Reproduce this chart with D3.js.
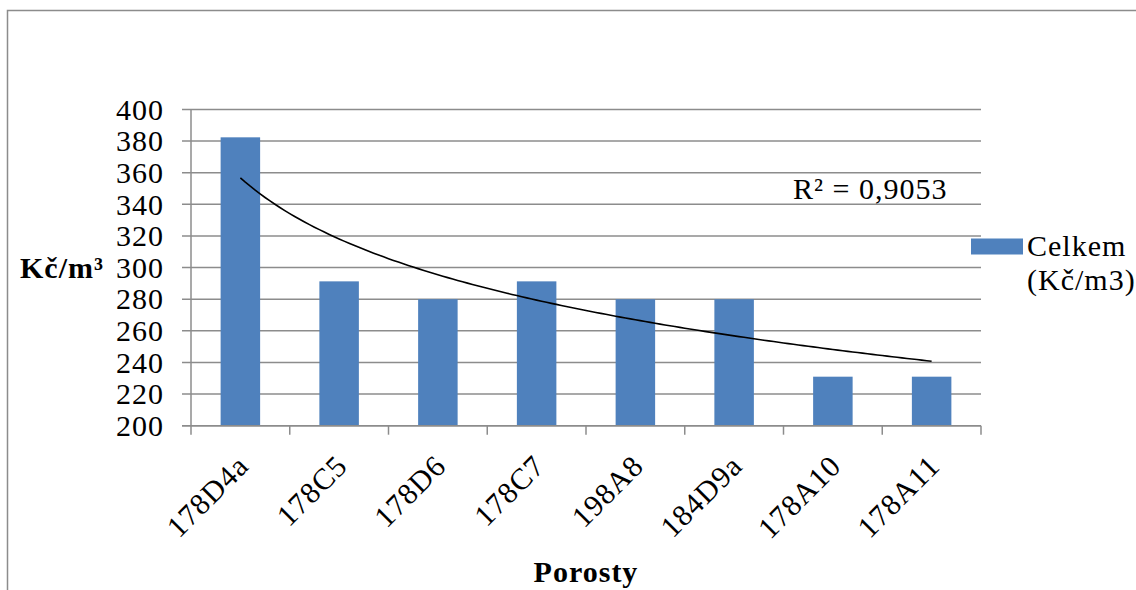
<!DOCTYPE html>
<html>
<head>
<meta charset="utf-8">
<script src="https://cdn.jsdelivr.net/npm/d3@7"></script>
<style>
  html, body { margin: 0; padding: 0; background: #fff; }
  svg { display: block; }
  svg text { letter-spacing: 1px; }
</style>
</head>
<body>
<svg id="chart" width="1136" height="590" font-family="'Liberation Serif', 'Times New Roman', Times, serif"></svg>
<script>
// Cost per m³ by stand
const categories = ["178D4a", "178C5", "178D6", "178C7", "198A8", "184D9a", "178A10", "178A11"];
const values = [382.4, 291.3, 280, 291.3, 280, 280, 231, 231];
const yTicks = [200, 220, 240, 260, 280, 300, 320, 340, 360, 380, 400];
const seriesName = ["Celkem", "(Kč/m3)"];
// Logarithmic trendline y = slope * ln(x) + intercept, x = 1..n
const trendSlope = -55.8;
const trendIntercept = 356.8;
const trendLabel = "R² = 0,9053";

const svg = d3.select("#chart");
const gridColor = "#8c8c8c";
const barColor = "#4f81bd";
const fontSize = 30;

// outer chart frame
svg.append("path")
  .attr("d", "M7.5,590 V10.5 H1136")
  .attr("fill", "none").attr("stroke", gridColor).attr("stroke-width", 1.5);

const plotLeft = 191, plotRight = 981, plotTop = 109.5, plotBottom = 425.7;

const x = d3.scaleBand()
  .domain(categories)
  .range([plotLeft, plotRight])
  .paddingInner(0.6)
  .paddingOuter(0.3);
const step = x.step();

const y = d3.scaleLinear().domain([200, 400]).range([plotBottom, plotTop]);

// horizontal gridlines (extending left as tick marks)
svg.append("g").selectAll("line").data(yTicks).join("line")
  .attr("x1", plotLeft - 9).attr("x2", plotRight)
  .attr("y1", d => y(d)).attr("y2", d => y(d))
  .attr("stroke", gridColor).attr("stroke-width", 1.5);

// y tick labels
svg.append("g").selectAll("text").data(yTicks).join("text")
  .attr("x", 164).attr("y", d => y(d)).attr("dy", "0.34em")
  .attr("text-anchor", "end").attr("font-size", fontSize)
  .text(d => d);

// bars
svg.append("g").selectAll("rect").data(categories).join("rect")
  .attr("x", d => x(d))
  .attr("width", x.bandwidth())
  .attr("y", (d, i) => y(values[i]))
  .attr("height", (d, i) => y(200) - y(values[i]))
  .attr("fill", barColor);

// axes lines
svg.append("line")
  .attr("x1", plotLeft).attr("x2", plotLeft)
  .attr("y1", plotTop).attr("y2", plotBottom)
  .attr("stroke", gridColor).attr("stroke-width", 1.5);
svg.append("line")
  .attr("x1", plotLeft - 9).attr("x2", plotRight)
  .attr("y1", plotBottom).attr("y2", plotBottom)
  .attr("stroke", gridColor).attr("stroke-width", 1.5);

// x tick marks at band boundaries
const boundaries = d3.range(categories.length + 1).map(i => plotLeft + i * step);
svg.append("g").selectAll("line").data(boundaries).join("line")
  .attr("x1", d => d).attr("x2", d => d)
  .attr("y1", plotBottom).attr("y2", plotBottom + 9)
  .attr("stroke", gridColor).attr("stroke-width", 1.5);

// rotated category labels
svg.append("g").selectAll("text").data(categories).join("text")
  .attr("text-anchor", "end")
  .attr("font-size", fontSize)
  .attr("transform", d => `translate(${x(d) + x.bandwidth() / 2 + 10},${plotBottom + 42}) rotate(-45)`)
  .text(d => d);

// logarithmic trendline
const center = i => x(categories[0]) + x.bandwidth() / 2 + (i - 1) * step;
const samples = d3.range(0, 141).map(k => 1 + k * (categories.length - 1) / 140);
const line = d3.line()
  .x(t => center(t))
  .y(t => y(trendSlope * Math.log(t) + trendIntercept));
svg.append("path").datum(samples)
  .attr("d", line)
  .attr("fill", "none").attr("stroke", "#000").attr("stroke-width", 1.6);

svg.append("text")
  .attr("x", 793).attr("y", 199)
  .attr("font-size", fontSize)
  .text(trendLabel);

// axis titles
svg.append("text")
  .attr("x", 20).attr("y", 278)
  .attr("font-size", fontSize).attr("font-weight", "bold")
  .text("Kč/m³");
svg.append("text")
  .attr("x", (plotLeft + plotRight) / 2).attr("y", 582)
  .attr("text-anchor", "middle")
  .attr("font-size", fontSize).attr("font-weight", "bold")
  .text("Porosty");

// legend
const legend = svg.append("g");
legend.append("rect")
  .attr("x", 971).attr("y", 238.5).attr("width", 52).attr("height", 16)
  .attr("fill", barColor);
legend.selectAll("text").data(seriesName).join("text")
  .attr("x", 1027).attr("y", (d, i) => 256 + i * 34)
  .attr("font-size", fontSize)
  .text(d => d);
</script>
</body>
</html>
